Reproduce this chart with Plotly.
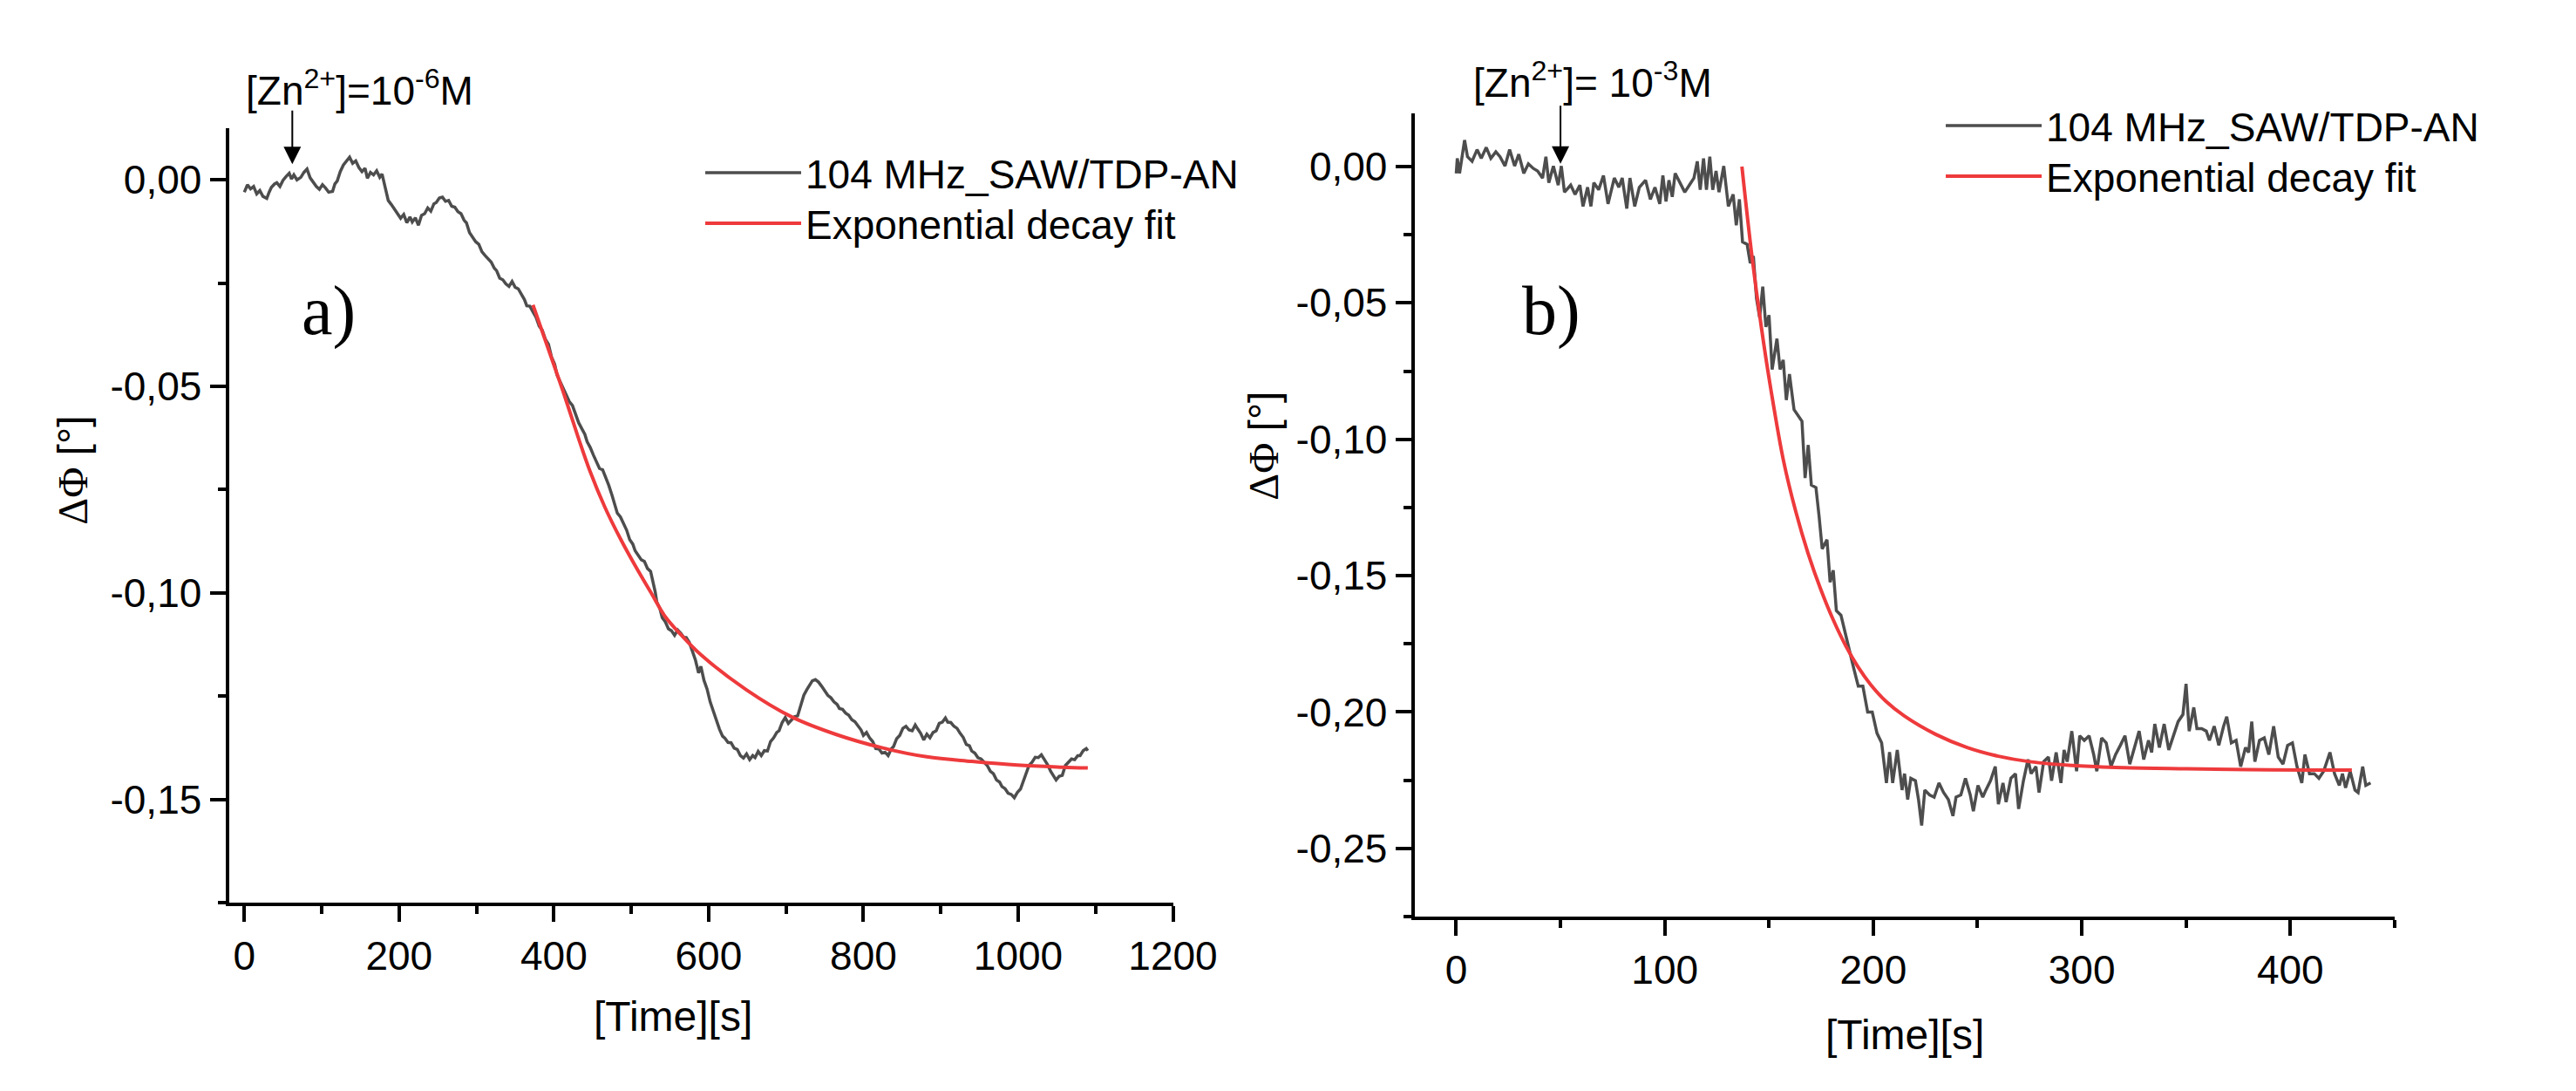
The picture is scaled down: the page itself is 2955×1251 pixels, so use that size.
import plotly.graph_objects as go

# ---- panel a) : [Zn2+] = 1e-6 M ----
time_a = [0, 4, 8, 12, 16, 20, 24, 29, 32, 35, 39, 42, 46, 50, 54, 58, 61, 64, 68, 73,
          77, 81, 85, 89, 93, 97, 101, 105, 109, 114, 117, 120, 124, 128, 132, 136, 140, 144, 148, 152,
          156, 159, 163, 167, 171, 175, 178, 182, 186, 190, 194, 198, 202, 206, 210, 214, 217, 221, 225, 229,
          233, 237, 241, 245, 248, 252, 256, 260, 264, 268, 272, 276, 280, 284, 287, 291, 295, 299, 303, 307,
          311, 315, 319, 323, 326, 330, 334, 338, 342, 346, 350, 354, 358, 362, 365, 369, 373, 377, 381, 385,
          389, 393, 397, 401, 404, 408, 412, 416, 420, 424, 428, 432, 436, 440, 443, 447, 451, 455, 459, 463,
          467, 471, 475, 479, 482, 486, 490, 494, 498, 502, 505, 509, 513, 517, 521, 525, 529, 531, 533, 537,
          540, 544, 548, 552, 556, 560, 564, 568, 571, 575, 579, 583, 587, 590, 594, 598, 602, 606, 610, 614,
          618, 621, 625, 629, 633, 637, 641, 645, 649, 653, 657, 660, 664, 668, 672, 676, 680, 684, 688, 691,
          695, 699, 703, 707, 711, 715, 719, 723, 727, 730, 734, 738, 742, 746, 750, 754, 758, 762, 766, 769,
          773, 777, 781, 785, 789, 793, 797, 800, 804, 808, 812, 816, 820, 824, 828, 832, 836, 839, 843, 847,
          851, 855, 859, 863, 867, 870, 874, 878, 882, 886, 890, 894, 898, 902, 906, 909, 913, 917, 921, 925,
          929, 933, 937, 940, 944, 948, 952, 956, 960, 964, 968, 972, 976, 979, 983, 987, 991, 995, 999, 1003,
          1007, 1010, 1014, 1018, 1022, 1026, 1030, 1034, 1038, 1042, 1046, 1049, 1053, 1057, 1061, 1065, 1069, 1073, 1077, 1080,
          1084, 1088, 1090]
phase_a = [-0.0030, -0.0012, -0.0022, -0.0016, -0.0034, -0.0026, -0.0040, -0.0045, -0.0030, -0.0018,
           -0.0010, -0.0007, -0.0016, -0.0001, 0.0008, 0.0016, 0.0002, 0.0012, 0.0000, 0.0006,
           0.0018, 0.0026, 0.0005, -0.0007, -0.0016, -0.0023, -0.0012, -0.0020, -0.0030, -0.0028,
           -0.0010, -0.0003, 0.0020, 0.0036, 0.0046, 0.0055, 0.0040, 0.0046, 0.0030, 0.0020,
           0.0028, 0.0004, 0.0018, 0.0012, 0.0022, 0.0006, 0.0014, -0.0018, -0.0050, -0.0060,
           -0.0072, -0.0082, -0.0093, -0.0084, -0.0104, -0.0090, -0.0102, -0.0092, -0.0110, -0.0086,
           -0.0082, -0.0068, -0.0076, -0.0058, -0.0055, -0.0044, -0.0042, -0.0052, -0.0050, -0.0064,
           -0.0066, -0.0077, -0.0082, -0.0098, -0.0104, -0.0128, -0.0140, -0.0150, -0.0156, -0.0174,
           -0.0183, -0.0192, -0.0199, -0.0214, -0.0220, -0.0238, -0.0242, -0.0252, -0.0258, -0.0246,
           -0.0260, -0.0264, -0.0278, -0.0290, -0.0305, -0.0306, -0.0320, -0.0333, -0.0354, -0.0364,
           -0.0386, -0.0398, -0.0429, -0.0446, -0.0472, -0.0488, -0.0505, -0.0520, -0.0537, -0.0546,
           -0.0569, -0.0588, -0.0602, -0.0616, -0.0634, -0.0648, -0.0666, -0.0683, -0.0699, -0.0702,
           -0.0720, -0.0740, -0.0763, -0.0786, -0.0807, -0.0816, -0.0834, -0.0848, -0.0871, -0.0882,
           -0.0898, -0.0908, -0.0920, -0.0924, -0.0941, -0.0948, -0.0979, -0.0998, -0.1022, -0.1038,
           -0.1060, -0.1070, -0.1087, -0.1092, -0.1103, -0.1090, -0.1098, -0.1108, -0.1108, -0.1120,
           -0.1141, -0.1163, -0.1194, -0.1178, -0.1212, -0.1233, -0.1264, -0.1287, -0.1312, -0.1330,
           -0.1347, -0.1352, -0.1362, -0.1363, -0.1376, -0.1379, -0.1394, -0.1400, -0.1390, -0.1404,
           -0.1394, -0.1399, -0.1384, -0.1394, -0.1382, -0.1383, -0.1360, -0.1351, -0.1338, -0.1334,
           -0.1314, -0.1302, -0.1316, -0.1309, -0.1300, -0.1298, -0.1270, -0.1248, -0.1234, -0.1226,
           -0.1213, -0.1210, -0.1216, -0.1226, -0.1236, -0.1248, -0.1254, -0.1264, -0.1270, -0.1280,
           -0.1282, -0.1291, -0.1296, -0.1307, -0.1312, -0.1323, -0.1332, -0.1345, -0.1338, -0.1351,
           -0.1360, -0.1377, -0.1378, -0.1388, -0.1386, -0.1394, -0.1378, -0.1372, -0.1353, -0.1345,
           -0.1328, -0.1323, -0.1332, -0.1334, -0.1320, -0.1329, -0.1340, -0.1356, -0.1342, -0.1351,
           -0.1338, -0.1334, -0.1316, -0.1313, -0.1303, -0.1313, -0.1314, -0.1323, -0.1328, -0.1340,
           -0.1350, -0.1367, -0.1370, -0.1383, -0.1388, -0.1399, -0.1402, -0.1410, -0.1418, -0.1432,
           -0.1438, -0.1453, -0.1458, -0.1469, -0.1474, -0.1485, -0.1488, -0.1496, -0.1483, -0.1475,
           -0.1454, -0.1442, -0.1418, -0.1410, -0.1398, -0.1399, -0.1392, -0.1404, -0.1416, -0.1432,
           -0.1444, -0.1453, -0.1444, -0.1442, -0.1418, -0.1410, -0.1402, -0.1404, -0.1394, -0.1394,
           -0.1382, -0.1377, -0.1382]

fit_time_a = [373, 392, 412, 431, 447, 466, 486, 505, 525, 544, 564, 590, 649, 707, 765, 824, 882, 940, 999, 1057, 1090]
fit_a = [-0.0303, -0.0405, -0.0513, -0.0621, -0.0707, -0.0793, -0.0869, -0.0934, -0.0998, -0.1058,
         -0.1101, -0.1150, -0.1235, -0.1300, -0.1343, -0.1375, -0.1397, -0.1408, -0.1417, -0.1422, -0.1424]

# ---- panel b) : [Zn2+] = 1e-3 M ----
time_b = [0, 0.5, 1.6, 4, 5.4, 7.6, 10, 12, 14.4, 16.6, 19, 21, 23.4, 25.6, 28, 30, 32.4, 34.6, 37, 39,
          41.4, 43, 44.4, 46.6, 48.9, 50.4, 51.9, 54.9, 57, 59.3, 60.8, 63, 64.6, 66, 68.3, 70.6, 72.8, 75.8, 78, 79.6,
          81.8, 83.3, 85.6, 87.8, 90.8, 93.1, 95.3, 97.6, 99.1, 100.6, 102, 103.6, 105, 107.3, 109.6, 111.8, 114, 115.6, 117, 118.6,
          120, 121.6, 123, 124.6, 126, 128.3, 130.5, 132.8, 134.3, 135.8, 137.3, 139.5, 141, 142.5, 144, 145.5, 147, 148.5, 150, 151.5,
          153.8, 155.3, 156.8, 158.3, 159.8, 162, 164.3, 165.8, 167.3, 168.8, 170.3, 172.5, 174, 175.5, 177.8, 179.3, 180.8, 182.3, 184.5, 186,
          188.3, 190.5, 192.8, 195, 197.3, 199.5, 201.8, 204, 206.3, 207.8, 209.3, 211.5, 213.8, 215, 216.5, 218, 220.2, 221.7, 223.2, 224.7,
          227, 229.2, 231.5, 233.7, 236, 238.2, 239.7, 242, 244.2, 246.5, 248, 250.2, 252.5, 254, 256.2, 258.5, 260, 262.2, 263.7, 266,
          268.2, 269.7, 272, 274.2, 275.7, 278, 279.5, 281.7, 284, 285.5, 287.7, 290, 291.5, 293, 295.2, 297.5, 299, 301.2, 303.5, 305.7,
          307.2, 309.5, 311.7, 314, 316.2, 318.5, 320.7, 323, 325.2, 327.5, 329.7, 332, 333.5, 335, 337.2, 339.5, 341.7, 344, 346.2, 348.5,
          350, 351.5, 353.7, 355.2, 357.5, 359.7, 361.2, 363.5, 365.7, 368, 369.5, 371.7, 374, 376.2, 378.5, 380, 381.5, 383, 385.2, 387.5,
          389.7, 392, 394.2, 396.5, 398.7, 401, 403.2, 405.5, 407, 409.2, 411.5, 413.7, 416, 419, 421.2, 423.5, 425, 426.5, 428.7, 431,
          432.5, 434.7, 436.2, 438.5]
phase_b = [-0.0025, 0.0030, -0.0025, 0.0097, 0.0036, 0.0019, 0.0062, 0.0030, 0.0070, 0.0030,
           0.0054, 0.0036, 0.0002, 0.0062, 0.0002, 0.0045, -0.0025, 0.0010, -0.0007, -0.0016,
           -0.0042, 0.0036, -0.0059, 0.0002, -0.0068, 0.0002, -0.0094, -0.0068, -0.0102, -0.0068,
           -0.0146, -0.0076, -0.0146, -0.0059, -0.0085, -0.0033, -0.0137, -0.0042, -0.0076, -0.0042,
           -0.0154, -0.0042, -0.0146, -0.0076, -0.0050, -0.0120, -0.0076, -0.0137, -0.0033, -0.0128,
           -0.0050, -0.0111, -0.0025, -0.0059, -0.0094, -0.0068, -0.0042, 0.0019, -0.0085, 0.0030,
           -0.0085, 0.0036, -0.0085, -0.0016, -0.0094, 0.0002, -0.0146, -0.0102, -0.0215, -0.0120,
           -0.0276, -0.0285, -0.0354, -0.0328, -0.0484, -0.0553, -0.0440, -0.0588, -0.0545, -0.0744,
           -0.0631, -0.0744, -0.0709, -0.0856, -0.0761, -0.0891, -0.0917, -0.0934, -0.1142, -0.1021,
           -0.1168, -0.1177, -0.1281, -0.1402, -0.1368, -0.1524, -0.1480, -0.1628, -0.1645, -0.1697,
           -0.1766, -0.1836, -0.1905, -0.1905, -0.2000, -0.2000, -0.2078, -0.2113, -0.2260, -0.2147,
           -0.2260, -0.2139, -0.2286, -0.2226, -0.2321, -0.2243, -0.2252, -0.2321, -0.2416, -0.2286,
           -0.2304, -0.2312, -0.2260, -0.2295, -0.2321, -0.2381, -0.2312, -0.2304, -0.2243, -0.2304,
           -0.2364, -0.2269, -0.2312, -0.2286, -0.2252, -0.2200, -0.2338, -0.2260, -0.2330, -0.2243,
           -0.2226, -0.2355, -0.2252, -0.2174, -0.2226, -0.2200, -0.2295, -0.2182, -0.2165, -0.2252,
           -0.2148, -0.2260, -0.2139, -0.2182, -0.2070, -0.2217, -0.2087, -0.2104, -0.2087, -0.2156,
           -0.2217, -0.2095, -0.2113, -0.2200, -0.2156, -0.2122, -0.2087, -0.2191, -0.2130, -0.2070,
           -0.2174, -0.2104, -0.2148, -0.2044, -0.2130, -0.2044, -0.2139, -0.2087, -0.2035, -0.2009,
           -0.1897, -0.2070, -0.1983, -0.2061, -0.2061, -0.2070, -0.2104, -0.2052, -0.2122, -0.2052,
           -0.2017, -0.2113, -0.2104, -0.2200, -0.2130, -0.2148, -0.2035, -0.2182, -0.2104, -0.2095,
           -0.2156, -0.2052, -0.2165, -0.2191, -0.2122, -0.2113, -0.2200, -0.2260, -0.2156, -0.2226,
           -0.2226, -0.2243, -0.2217, -0.2148, -0.2226, -0.2269, -0.2226, -0.2278, -0.2217, -0.2286,
           -0.2295, -0.2200, -0.2269, -0.2260]

fit_time_b = [137.0, 141.8, 146.3, 150.8, 156.8, 162.8, 168.8, 174.8, 180.8, 186.8, 192.8, 198.8, 206,
              215, 230, 245, 260, 275, 297.5, 320, 350, 380, 410, 429.5]
fit_b = [0.0000, -0.0328, -0.0588, -0.0813, -0.1073, -0.1264, -0.1420, -0.1550, -0.1662, -0.1757,
         -0.1836, -0.1900, -0.1960, -0.2015, -0.2082, -0.2130, -0.2162, -0.2182, -0.2197, -0.2204,
         -0.2208, -0.2211, -0.2213, -0.2213]

# ---- axis ticks ----
xticks_a = [0, 200, 400, 600, 800, 1000, 1200]
xminor_a = [100, 300, 500, 700, 900, 1100]
yticks_a = [0.0, -0.05, -0.10, -0.15]
ylabels_a = ['0,00', '-0,05', '-0,10', '-0,15']
yminor_a = [-0.025, -0.075, -0.125, -0.175]

xticks_b = [0, 100, 200, 300, 400]
xminor_b = [50, 150, 250, 350, 450]
yticks_b = [0.0, -0.05, -0.10, -0.15, -0.20, -0.25]
ylabels_b = ['0,00', '-0,05', '-0,10', '-0,15', '-0,20', '-0,25']
yminor_b = [-0.025, -0.075, -0.125, -0.175, -0.225, -0.275]

W, H = 2955, 1251
SANS = 'Liberation Sans, Arial, sans-serif'
SERIF = 'Liberation Serif, Times New Roman, serif'
GRAY = '#4d4d4d'
RED = '#ee3a3c'
DATA_NAME = '104 MHz_SAW/TDP-AN'
FIT_NAME = 'Exponential decay fit'

fig = go.Figure()

fig.add_trace(go.Scatter(x=time_a, y=phase_a, mode='lines', name=DATA_NAME,
                         line=dict(color=GRAY, width=3.5), xaxis='x', yaxis='y', legend='legend'))
fig.add_trace(go.Scatter(x=fit_time_a, y=fit_a, mode='lines', name=FIT_NAME,
                         line=dict(color=RED, width=4, shape='spline'), xaxis='x', yaxis='y', legend='legend2'))
fig.add_trace(go.Scatter(x=time_b, y=phase_b, mode='lines', name=DATA_NAME,
                         line=dict(color=GRAY, width=3.5), xaxis='x2', yaxis='y2', legend='legend3'))
fig.add_trace(go.Scatter(x=fit_time_b, y=fit_b, mode='lines', name=FIT_NAME,
                         line=dict(color=RED, width=4, shape='spline'), xaxis='x2', yaxis='y2', legend='legend4'))


def axis(domain, rng, ticks, labels, minor, anchor):
    return dict(domain=domain, range=rng, anchor=anchor, showgrid=False, zeroline=False,
                showline=True, linecolor='black', linewidth=4, mirror=False,
                ticks='outside', ticklen=18, tickwidth=4, tickcolor='black',
                tickmode='array', tickvals=ticks, ticktext=labels,
                tickfont=dict(family=SANS, size=46, color='black'),
                minor=dict(tickmode='array', tickvals=minor, ticks='outside', ticklen=9,
                           tickwidth=4, tickcolor='black', showgrid=False))


def legend_at(x_px, y_px):
    # one legend per entry so the row spacing follows the reference
    return dict(x=x_px / W, y=1 - y_px / H, xanchor='left', yanchor='middle', itemwidth=110,
                bgcolor='rgba(0,0,0,0)', font=dict(family=SANS, size=46, color='black'))


fig.update_layout(
    width=W, height=H, autosize=False,
    margin=dict(l=0, r=0, t=0, b=0),
    paper_bgcolor='white', plot_bgcolor='white',
    font=dict(family=SANS, size=46, color='black'),
    xaxis=axis([259 / W, 1361 / W], [-20, 1200], xticks_a, [str(v) for v in xticks_a], xminor_a, 'y'),
    yaxis=axis([1 - 1027 / H, 1 - 139 / H], [-0.175, 0.0125], yticks_a, ylabels_a, yminor_a, 'x'),
    xaxis2=axis([1643 / W, 2787 / W], [-20, 450], xticks_b, [str(v) for v in xticks_b], xminor_b, 'y2'),
    yaxis2=axis([1 - 1043 / H, 1 - 122 / H], [-0.275, 0.0195], yticks_b, ylabels_b, yminor_b, 'x2'),
    legend=legend_at(810, 190),
    legend2=legend_at(810, 248),
    legend3=legend_at(2258, 136),
    legend4=legend_at(2258, 194),
    showlegend=True,
)

ytitle = '<span style="font-family:Liberation Serif,Times New Roman,serif">ΔΦ</span> [°]'


def label(text, x_px, y_px, size=46, family=SANS, angle=0, xanchor='center'):
    return dict(text=text, xref='paper', yref='paper', x=x_px / W, y=1 - y_px / H,
                xanchor=xanchor, yanchor='middle', showarrow=False, textangle=angle,
                font=dict(family=family, size=size, color='black'))


annotations = [
    # concentration labels and injection arrows
    label('[Zn<sup>2+</sup>]=10<sup>-6</sup>M', 277, 93, xanchor='left'),
    dict(text='', xref='x', yref='y', x=62, y=0.0038, ax=0, ay=-63, showarrow=True,
         arrowhead=2, arrowsize=2, arrowwidth=2, arrowcolor='black'),
    label('[Zn<sup>2+</sup>]= 10<sup>-3</sup>M', 1710, 84, xanchor='left'),
    dict(text='', xref='x2', yref='y2', x=50, y=0.001, ax=0, ay=-68, showarrow=True,
         arrowhead=2, arrowsize=2, arrowwidth=2, arrowcolor='black'),
    # panel letters
    label('a)', 375, 348, size=80, family=SERIF),
    label('b)', 1803, 348, size=80, family=SERIF),
    # axis titles
    label(ytitle, 76, 531, size=48, angle=-90),
    label(ytitle, 1466, 503, size=48, angle=-90),
    label('[Time][s]', 777, 1157, size=48),
    label('[Time][s]', 2215, 1178, size=48),
]
fig.update_layout(annotations=annotations)

fig.write_html("out.html")
